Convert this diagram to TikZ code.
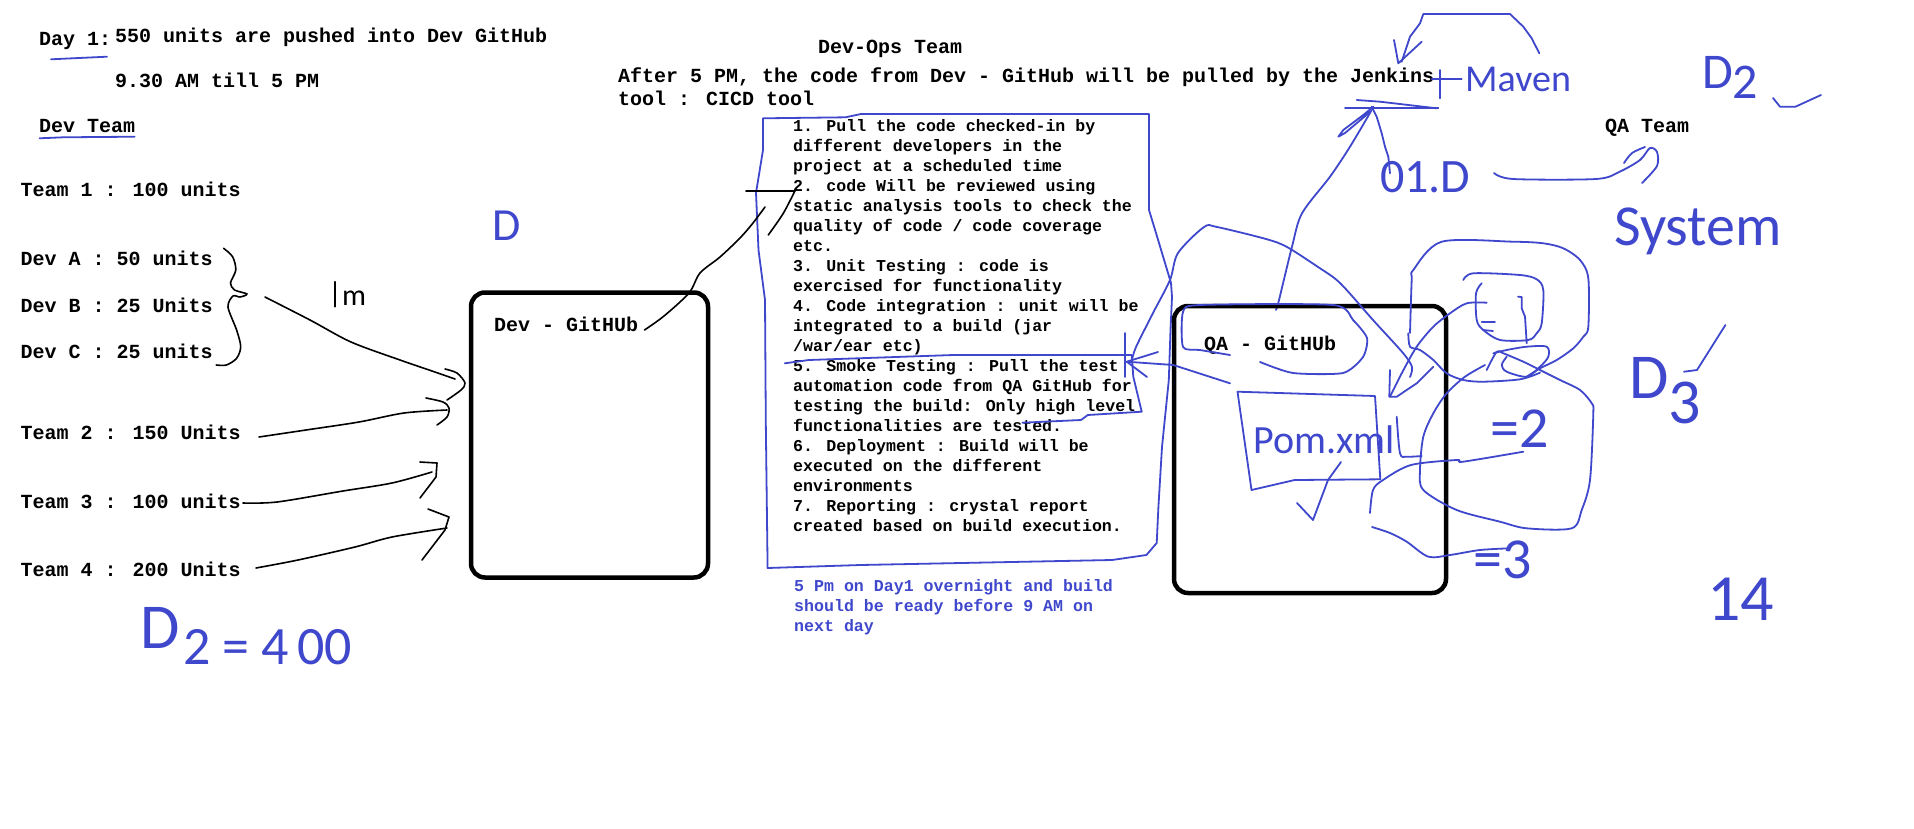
\documentclass[tikz,border=0pt]{standalone}
\usepackage{fontspec}
\newfontfamily\mono{Liberation Mono}
\newfontfamily\hand{Carlito}
\definecolor{penblue}{RGB}{63,72,204}
\tikzset{
  txt/.style={anchor=base west, inner sep=0pt, font=\mono\bfseries\fontsize{20}{20}\selectfont},
  ltxt/.style={anchor=base west, inner sep=0pt, font=\mono\bfseries\fontsize{16.6}{20}\selectfont},
  note/.style={ltxt, text=penblue},
  hw/.style={anchor=base west, inner sep=0pt, text=penblue},
  bluepen/.style={draw=penblue, line width=1.8pt, line join=round, line cap=round},
  ink/.style={draw=black, line width=1.6pt, line join=round, line cap=round},
  repo/.style={draw=black, line width=4.5pt, rounded corners=14pt, inner sep=0pt},
}
\begin{document}
\begin{tikzpicture}[x=1pt,y=-1pt]
\fill[white] (0,0) rectangle (1914,828);
\useasboundingbox (0,0) rectangle (1914,828);

% ---------- left column texts ----------
\node[txt] (day1) at (38.8,45) {Day 1:};
\node[txt] (push) at (115,42.7) {550 units are pushed into Dev GitHub};
\node[txt] (time) at (115,87.7) {9.30 AM till 5 PM};
\node[txt] (devteam) at (38.8,132.3) {Dev Team};
\node[txt] (team1) at (20.4,196.7) {Team 1 : 100 units};
\node[txt] (devA) at (20.4,265.7) {Dev A : 50 units};
\node[txt] (devB) at (20.4,312.3) {Dev B : 25 Units};
\node[txt] (devC) at (20.4,358.3) {Dev C : 25 units};
\node[txt] (team2) at (20.4,439) {Team 2 : 150 Units};
\node[txt] (team3) at (20.4,508.3) {Team 3 : 100 units};
\node[txt] (team4) at (20.4,576.7) {Team 4 : 200 Units};

\draw[bluepen] (51,59.3) -- (107,56.7);
\draw[bluepen] (39.6,138.3) -- (63,137.3) -- (134.6,136.7);

% brace
\draw[ink] plot[smooth, tension=0.5] coordinates {(223.6,248.3) (232.6,256.7) (235.8,270) (230.5,283) (234.6,290) (247,294) (240,297) (233,296) (228,307) (236.6,330) (240.7,346.7) (236.6,358.3) (226.4,365) (216.2,365)};
% "|m"
\draw[ink] (335,281.7) -- (335,306.7);
\node[anchor=base west, inner sep=0pt, font=\hand\fontsize{30}{30}\selectfont] (mm) at (342,305) {m};

% ---------- Dev repo ----------
\node[repo, minimum width=237pt, minimum height=285pt] (devrepo) at (589.5,435) {};
\node[txt] (devlabel) at (493.9,331.7) {Dev - GitHUb};
\node[hw, font=\hand\fontsize{46}{46}\selectfont] (dmark) at (492,240) {D};

% team arrows
\coordinate (a1s) at (265,297);
\coordinate (a2s) at (259,437);
\coordinate (a3s) at (243,503);
\coordinate (a4s) at (256,568);
\draw[ink] plot[smooth, tension=0.5] coordinates {(a1s) (310,320) (351,342) (400,360) (432,371) (455,379)};
\draw[ink] plot[smooth, tension=0.5] coordinates {(445,369) (457,373) (465,383) (461,390) (447,400)};
\draw[ink] plot[smooth, tension=0.5] coordinates {(a2s) (306,430) (359,422) (404,413) (447,410)};
\draw[ink] plot[smooth, tension=0.5] coordinates {(426,398) (443,402) (449,408) (447,417) (437,425)};
\draw[ink] plot[smooth, tension=0.5] coordinates {(a3s) (277,502) (343,491) (392,483) (432,472)};
\draw[ink] (420,462) -- (437,463) -- (436,477) -- (420,498);
\draw[ink] plot[smooth, tension=0.5] coordinates {(a4s) (298,560) (355,547) (392,537) (447,528)};
\draw[ink] (428,509) -- (449,517) -- (445,530) -- (422,560);

\node[hw, font=\hand\fontsize{64}{64}\selectfont] (d2eq) at (140,648) {D\hspace{4pt}\raisebox{-16pt}{\fontsize{54}{54}\selectfont 2\hspace{12pt}=\hspace{12pt}4\hspace{8pt}00}};

% ---------- Dev-Ops ----------
\node[txt] (devops) at (817.9,53.3) {Dev-Ops Team};
\node[txt] (after) at (617.9,82.7) {After 5 PM, the code from Dev - GitHub will be pulled by the Jenkins};
\node[txt] (tool) at (617.9,105) {tool : CICD tool};

\foreach \t [count=\i] in {
1. Pull the code checked-in by,
different developers in the,
project at a scheduled time,
2. code Will be reviewed using,
static analysis tools to check the,
quality of code / code coverage,
etc.,
3. Unit Testing : code is,
exercised for functionality,
4. Code integration : unit will be,
integrated to a build (jar,
/war/ear etc),
5. Smoke Testing : Pull the test,
automation code from QA GitHub for,
testing the build: Only high level,
functionalities are tested.,
6. Deployment : Build will be,
executed on the different,
environments,
7. Reporting : crystal report,
created based on build execution.}
  \node[ltxt] (item\i) at (793,{131.7+20*(\i-1)}) {\t};

\node[note] (note1) at (794,591.7) {5 Pm on Day1 overnight and build};
\node[note] (note2) at (794,611.7) {should be ready before 9 AM on};
\node[note] (note3) at (794,631.7) {next day};

% list box
\draw[bluepen] (763,118.3) -- (845.5,117.3) -- (861,114) -- (1149,114) -- (1149,210) -- (1156,233) -- (1171,283) -- (1172,297) -- (1170.5,330) -- (1168.8,380) -- (1162,447) -- (1158.4,507) -- (1156.7,543) -- (1146.4,555) -- (1112,560) -- (860.5,565) -- (767.6,568) -- (765.8,423) -- (765,300) -- (758.5,250) -- (756,193) -- (763,150) -- cycle;
% item 5 box
\draw[bluepen] (784.8,363.3) -- (808.9,360) -- (953.5,355) -- (1131.7,355) -- (1133.3,376.7) -- (1141.7,411.7) -- (1087.8,415) -- (1081,420) -- (1022.4,422.7);

% black connector Dev repo -> list
\draw[ink] plot[smooth, tension=0.5] coordinates {(644.5,330) (664,316) (689,293) (700,273) (720,257) (740,238) (753,223) (765,207)};
\draw[ink] (746,190.7) -- (795,190.7);
\draw[ink] plot[smooth, tension=0.5] coordinates {(795,190.7) (783.3,213.3) (768.3,235)};

% ---------- Jenkins / Maven ----------
\draw[bluepen] (1539.3,53.3) -- (1531.7,38.3) -- (1523.3,26.7) -- (1510,14) -- (1423.3,14) -- (1420,23.3) -- (1410,36.7) -- (1401.7,61.7);
\draw[bluepen] (1394,40) -- (1398.3,63.3) -- (1421.7,41.7);
\draw[bluepen] (1440,70) -- (1440,98.3);
\draw[bluepen] (1431.7,79) -- (1461.7,79);
\node[hw, font=\hand\fontsize{38}{38}\selectfont] (maven) at (1465,91.7) {Maven};

\draw[bluepen] (1345,108.3) -- (1438.3,108.3);
\draw[bluepen] (1356.7,100) -- (1380,101.7) -- (1436.7,108.3);
\draw[bluepen] (1373.3,106.7) -- (1363.3,115) -- (1343.3,130) -- (1338.3,136.7) -- (1345,133) -- (1370,112);
\draw[bluepen] (1371.7,106.7) -- (1376.7,116.7) -- (1381.7,133.3) -- (1385,146.7) -- (1388.3,156.7) -- (1390,173.3);
\draw[bluepen] plot[smooth, tension=0.5] coordinates {(1371.7,110) (1350,146.7) (1330,176.7) (1302,213.3) (1292,246.7) (1279,300) (1276,310)};

\node[hw, font=\hand\fontsize{48}{48}\selectfont] (oneD) at (1380,192) {01.D};
\draw[bluepen] plot[smooth, tension=0.5] coordinates {(1494,173) (1513,179) (1596,179) (1619,172) (1640,160) (1650,148) (1657,152) (1657,166) (1642,183)};
\draw[bluepen] plot[smooth, tension=0.5] coordinates {(1624,163) (1632,153) (1645,147)};

\node[txt] (qateam) at (1605,132.7) {QA Team};

% ---------- QA repo ----------
\node[repo, minimum width=272pt, minimum height=287pt] (qarepo) at (1310,449.5) {};
\node[txt] (qalabel) at (1204,350) {QA - GitHUb};
\draw[bluepen] plot[smooth, tension=0.4] coordinates {(1230,355) (1200,350) (1183,347) (1183,312) (1200,305) (1333,305) (1353,320) (1367,338) (1363,357) (1343,373) (1293,373) (1260,362)};

% arrow QA -> item 5
\coordinate (qaarr) at (1230,383.3);
\draw[bluepen] (qaarr) -- (1173.3,365) -- (1126.7,361.7);
\draw[bluepen] (1125,333) -- (1125,377);
\draw[bluepen] (1158,352) -- (1126.7,361.7) -- (1147,377);

% pom.xml
\draw[bluepen] (1237.5,391.7) -- (1375,396) -- (1380.3,479.3) -- (1294.6,480) -- (1251.5,490) -- cycle;
\node[hw, font=\hand\fontsize{40}{40}\selectfont] (pom) at (1253,453) {Pom.xml};
\draw[bluepen] (1297,503) -- (1313,520) -- (1328,480) -- (1341,462);

% scribbles
\draw[bluepen] plot[smooth, tension=0.5] coordinates {(1132,360) (1136,347) (1153,313) (1170,280) (1178,253) (1204,227) (1217,227) (1266,239) (1287,247) (1318,267) (1340,283) (1373,320) (1403,353) (1412,367) (1410,377)};
\draw[bluepen] plot[smooth, tension=0.5] coordinates {(1410,333) (1411.7,280) (1413.3,270) (1441.7,241.7) (1513.3,241.7) (1543.3,243.3) (1563.3,248.3) (1580,260) (1588.3,278.3) (1588.3,326.7) (1583.3,336.7) (1573.3,348.3) (1556.7,360) (1540,368.3) (1526.7,376.7)};
\draw[bluepen] plot[smooth, tension=0.5] coordinates {(1408.3,333.3) (1410,346.7) (1420,350) (1433.3,360) (1446.7,373.3) (1463.3,380) (1483.3,381.7) (1520,379.3) (1540,372.7)};
\draw[bluepen] plot[smooth, tension=0.5] coordinates {(1463.3,280) (1473.3,273.3) (1520,275) (1536.7,279.3) (1543.3,290) (1541.7,323.3) (1536.7,333.3) (1528.3,340) (1500,340) (1483.3,330) (1476.7,320) (1476,293.3) (1481.7,283.3)};
\draw[bluepen] (1481.7,321.7) -- (1495,321.7);
\draw[bluepen] (1483,330) -- (1493,331);
\draw[bluepen] (1518,296.7) -- (1521.7,297) -- (1521.7,308.3) -- (1525,316.7) -- (1526.7,343.3);
\draw[bluepen] plot[smooth, tension=0.5] coordinates {(1493.3,353.3) (1506.7,350) (1526.7,346.7) (1546.7,346.7) (1548.3,356.7) (1540,366.7) (1526.7,376.7) (1506.7,371.7) (1501.7,365) (1506.7,356.7)};
\draw[bluepen] plot[smooth, tension=0.5] coordinates {(1486.7,370) (1496.7,351.7) (1503.3,353.3) (1523.3,361.7) (1540,370) (1560,380) (1580,390) (1591.7,403.3) (1593.3,413.3) (1590,480) (1581.7,510) (1571.7,528.3) (1526.7,528.3) (1500,521.7) (1456.7,510) (1423.3,490) (1420,470) (1423.3,436.7) (1433.3,413.3) (1446.7,393.3) (1465,376.7) (1485,365)};
\draw[bluepen] (1390,370) -- (1389.3,396.7) -- (1396.7,396.7) -- (1416.7,383.3) -- (1433.3,366.7);
\draw[bluepen] plot[smooth, tension=0.5] coordinates {(1390,396.7) (1401.7,373.3) (1416.7,346.7) (1433.3,326.7) (1450,313.3) (1466.7,303.3) (1486.7,302.7)};
\draw[bluepen] plot[smooth, tension=0.5] coordinates {(1396.7,416.7) (1400,453.3) (1406.7,456.7) (1421.7,456)};
\draw[bluepen] plot[smooth, tension=0.5] coordinates {(1370,513) (1373,490) (1383,480) (1411,465) (1456.7,460) (1463,461.7) (1523.3,451.7)};
\draw[bluepen] plot[smooth, tension=0.5] coordinates {(1372,527) (1390,533) (1406.7,541.7) (1428.3,556.7) (1450,555) (1480,550) (1510,548.3)};

\node[hw, font=\hand\fontsize{58}{58}\selectfont] (eq2) at (1490,447) {=2};
\node[hw, font=\hand\fontsize{58}{58}\selectfont] (eq3) at (1473,578) {=3};

% ---------- far right ----------
\node[hw, font=\hand\fontsize{50}{50}\selectfont] (dtwo) at (1702,88) {D\raisebox{-10pt}{2}};
\draw[bluepen] (1773,98) -- (1780,106.7) -- (1795.5,106.7) -- (1821,95);
\node[hw, font=\hand\fontsize{58}{58}\selectfont] (system) at (1614,245) {System};
\node[hw, font=\hand\fontsize{64}{64}\selectfont] (dthree) at (1629,398) {D\raisebox{-25pt}{3}};
\draw[bluepen] (1684,371.7) -- (1697,370) -- (1725.4,325);
\node[hw, font=\hand\fontsize{66}{66}\selectfont] (fourteen) at (1707,620) {14};
\end{tikzpicture}
\end{document}
